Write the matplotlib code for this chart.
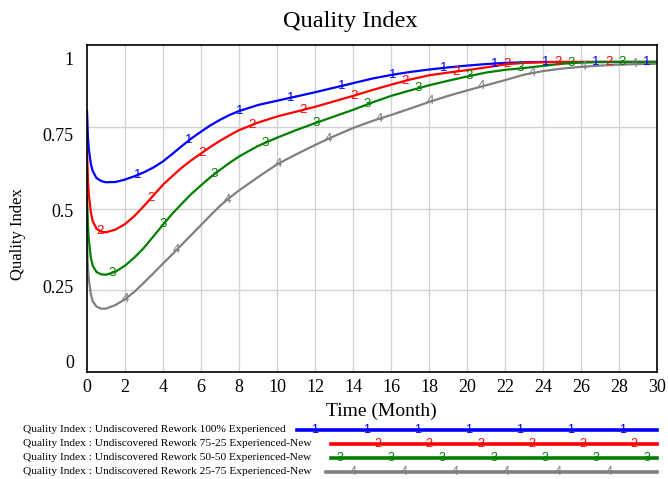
import matplotlib.pyplot as plt
import numpy as np

# Czas symulacji (miesiace) i wartosci Quality Index
czas = [0, 0.05, 0.1, 0.2, 0.3, 0.5, 0.75,
        1, 1.5, 2, 2.5, 3, 3.5, 4, 4.5, 5, 5.5, 6, 6.5, 7, 7.5, 8,
        9, 10, 11, 12, 13, 14, 15, 16, 17, 18, 19, 20, 21, 22, 23, 24, 25, 26, 27, 28, 29, 30]

qi_100 = [0.83, 0.74, 0.70, 0.655, 0.63, 0.607, 0.597,
          0.593, 0.594, 0.602, 0.613, 0.626, 0.642, 0.662, 0.687, 0.713, 0.738, 0.76, 0.781,
          0.799, 0.815, 0.828,
          0.848, 0.862, 0.876, 0.89, 0.905, 0.92, 0.935, 0.947, 0.957, 0.965, 0.972, 0.978,
          0.983, 0.987, 0.989, 0.99, 0.99, 0.99, 0.99, 0.99, 0.99, 0.99]
qi_75_25 = [0.70, 0.60, 0.55, 0.495, 0.465, 0.44, 0.43,
            0.428, 0.437, 0.455, 0.482, 0.515, 0.55, 0.585, 0.614, 0.642, 0.666, 0.688, 0.71,
            0.73, 0.748, 0.765,
            0.79, 0.81, 0.826, 0.842, 0.86, 0.878, 0.897, 0.915, 0.932, 0.946, 0.955, 0.963,
            0.972, 0.982, 0.987, 0.989, 0.99, 0.99, 0.99, 0.99, 0.99, 0.99]
qi_50_50 = [0.55, 0.45, 0.40, 0.345, 0.318, 0.297, 0.289,
            0.288, 0.298, 0.318, 0.345, 0.377, 0.415, 0.453, 0.49, 0.523, 0.555, 0.583, 0.61,
            0.634, 0.657, 0.678,
            0.713, 0.74, 0.765, 0.788, 0.81, 0.832, 0.856, 0.878, 0.896, 0.913, 0.928, 0.942,
            0.955, 0.964, 0.97, 0.977, 0.984, 0.988, 0.99, 0.99, 0.99, 0.99]
qi_25_75 = [0.40, 0.31, 0.27, 0.225, 0.20, 0.183, 0.176,
            0.176, 0.188, 0.207, 0.232, 0.262, 0.293, 0.325, 0.356, 0.388, 0.42, 0.452, 0.484,
            0.515, 0.542, 0.566,
            0.61, 0.652, 0.685, 0.716, 0.745, 0.772, 0.795, 0.815, 0.836, 0.858, 0.878, 0.896,
            0.913, 0.93, 0.948, 0.96, 0.968, 0.974, 0.978, 0.981, 0.983, 0.984]

nazwy_serii = [
    "Quality Index : Undiscovered Rework 100% Experienced",
    "Quality Index : Undiscovered Rework 75-25 Experienced-New",
    "Quality Index : Undiscovered Rework 50-50 Experienced-New",
    "Quality Index : Undiscovered Rework 25-75 Experienced-New",
]
etykiety_serii = ["1", "2", "3", "4"]
serie = [qi_100, qi_75_25, qi_50_50, qi_25_75]
kolory = ["#0000ff", "#ff0000", "#008000", "#808080"]

y_ticki = [0, 0.25, 0.5, 0.75, 1]
y_etykiety = ["0", "0.25", "0.5", "0.75", "1"]
x_ticki = list(range(0, 31, 2))

SERIF = "Liberation Serif"
SANS = "Liberation Sans"
W, H = 668.0, 479.0


def rysuj():
    fig = plt.figure(figsize=(W / 100, H / 100), dpi=100)
    ax = fig.add_axes([87 / W, 1 - 372 / H, 570 / W, 327 / H])

    ax.set_xlim(0, 30)
    ax.set_ylim(-0.033, 1.046)

    # siatka pionowa co 2 miesiace, pozioma dzieli ramke na 4 rowne czesci
    for x in x_ticki[1:-1]:
        ax.axvline(x, color="#d3d3d3", lw=1, zorder=0)
    for frac in (0.25, 0.5, 0.75):
        ax.plot([0, 1], [frac, frac], transform=ax.transAxes, color="#d3d3d3", lw=1, zorder=0)

    krok = 2.68
    for i, (wart, kolor, etyk) in enumerate(zip(serie, kolory, etykiety_serii)):
        ax.plot(czas, wart, color=kolor, lw=1.6, zorder=2 + i * 0.1, solid_capstyle="butt")
        start = krok if i == 0 else 0.67 * i
        t_m = np.arange(start, 30, krok)
        y_m = np.interp(t_m, czas, wart)
        for t, y in zip(t_m, y_m):
            ax.text(t, y, etyk, color=kolor, fontsize=9.5, family=SANS, ha="center", va="center",
                    zorder=3)

    ax.set_xticks(x_ticki)
    ax.set_xticklabels([str(x) for x in x_ticki], family=SERIF, fontsize=13)
    ax.set_yticks(y_ticki)
    ax.set_yticklabels(y_etykiety, family=SERIF, fontsize=13)
    ax.tick_params(axis="both", length=0)
    ax.tick_params(axis="x", pad=5)
    ax.tick_params(axis="y", pad=9.5)
    for s in ax.spines.values():
        s.set_linewidth(1.2)

    fig.text(381 / W, 1 - 411 / H, "Time (Month)", family=SERIF, fontsize=14, ha="center",
             va="center")
    fig.text(18 / W, 1 - 234 / H, "Quality Index", family=SERIF, fontsize=12, ha="center",
             va="center", rotation=90)
    fig.text(350 / W, 1 - 21 / H, "Quality Index", family=SERIF, fontsize=17.5, ha="center",
             va="center")

    # legenda pod wykresem, jak w Vensimie
    wiersze_y = [430, 444, 458, 472]
    poczatki_linii = [297, 331, 331, 326]
    pierwszy_znacznik = [315, 378, 340, 353]
    for i in range(4):
        yf = 1 - wiersze_y[i] / H
        fig.text(23 / W, yf, nazwy_serii[i], family=SERIF, fontsize=8.2, ha="left", va="center")
        fig.add_artist(plt.Line2D([poczatki_linii[i] / W, 657 / W], [yf, yf], color=kolory[i],
                                  lw=2.6, transform=fig.transFigure))
        for xm in np.arange(pierwszy_znacznik[i], 660, 51.2):
            fig.text(xm / W, yf, etykiety_serii[i], color=kolory[i], fontsize=9, family=SANS,
                     ha="center", va="center")

    fig.savefig("out.png", dpi=100)


def main():
    rysuj()


if __name__ == "__main__":
    main()
